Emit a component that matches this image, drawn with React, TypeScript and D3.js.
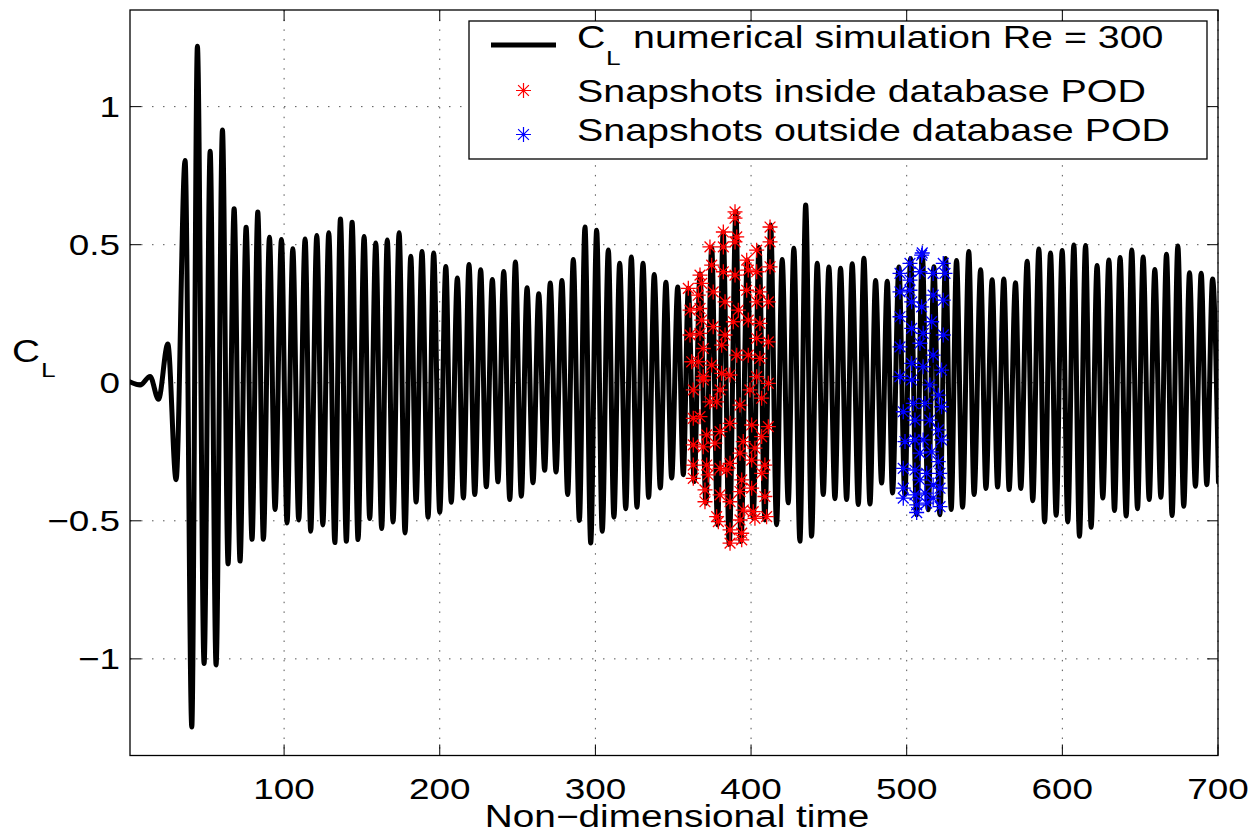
import React from 'react';
import * as d3 from 'd3';

// C_L time history: successive extrema (time, value)
const lineT = [1.1, 7.5, 13.9, 19.3, 25.3, 30.6, 36.4, 40.7, 44.3, 48.6, 52.5, 56.3, 60.4, 64.0, 67.9, 71.7, 75.6, 79.4, 83.1, 86.7,
  90.6, 94.2, 98.3, 101.9, 105.6, 109.4, 113.5, 117.1, 121.0, 124.9, 128.7, 132.6, 136.2, 140.0, 143.7, 147.5, 151.4, 155.0, 158.9, 162.7,
  166.3, 170.0, 173.9, 177.7, 181.4, 184.8, 188.6, 192.5, 196.1, 200.0, 203.9, 207.4, 211.3, 215.2, 218.8, 222.5, 226.3, 229.9, 233.8, 237.4,
  241.1, 245.0, 248.6, 252.4, 256.1, 259.9, 263.6, 267.4, 271.0, 274.7, 278.5, 282.2, 285.8, 289.7, 293.3, 297.0, 300.8, 304.4, 308.3, 311.9,
  315.6, 319.5, 323.1, 326.7, 330.6, 334.2, 337.8, 341.7, 345.3, 349.0, 352.9, 356.5, 359.7, 363.5, 367.2, 371.0, 374.7, 378.5, 382.1, 386.0,
  390.3, 393.5, 397.6, 401.4, 405.1, 408.9, 412.6, 416.4, 420.0, 423.9, 427.5, 431.4, 435.1, 438.9, 442.5, 446.4, 450.0, 453.9, 457.5, 461.4,
  465.0, 468.9, 472.5, 476.4, 480.0, 483.9, 487.5, 490.9, 495.0, 498.8, 502.5, 506.4, 510.0, 513.8, 517.5, 521.3, 525.0, 528.6, 532.0, 535.9,
  539.9, 543.3, 547.5, 550.9, 554.9, 558.4, 562.4, 565.8, 569.9, 573.3, 577.4, 581.0, 584.9, 588.6, 592.4, 596.0, 599.9, 603.5, 607.4, 611.0,
  614.9, 618.5, 622.3, 626.0, 629.9, 633.5, 637.1, 641.0, 644.6, 648.3, 651.9, 655.8, 659.4, 663.3, 666.9, 670.5, 674.2, 678.0, 681.7, 685.5,
  689.2, 692.8, 696.5, 700.3];
const lineV = [0.003, -0.008, 0.023, -0.060, 0.140, -0.351, 0.805, -1.247, 1.219, -1.017, 0.838, -1.022, 0.915, -0.656, 0.630, -0.646, 0.563, -0.567, 0.618, -0.567,
  0.527, -0.459, 0.519, -0.508, 0.485, -0.497, 0.521, -0.538, 0.533, -0.515, 0.543, -0.579, 0.593, -0.574, 0.581, -0.568, 0.530, -0.492, 0.506, -0.528,
  0.517, -0.504, 0.543, -0.544, 0.458, -0.432, 0.475, -0.487, 0.470, -0.469, 0.421, -0.433, 0.379, -0.417, 0.428, -0.405, 0.409, -0.377, 0.374, -0.359,
  0.403, -0.423, 0.437, -0.411, 0.344, -0.362, 0.322, -0.317, 0.361, -0.323, 0.370, -0.405, 0.446, -0.499, 0.564, -0.580, 0.552, -0.538, 0.481, -0.487,
  0.433, -0.456, 0.455, -0.451, 0.433, -0.415, 0.392, -0.381, 0.364, -0.345, 0.347, -0.333, 0.342, -0.358, 0.395, -0.436, 0.490, -0.515, 0.546, -0.585,
  0.619, -0.575, 0.445, -0.490, 0.490, -0.497, 0.571, -0.514, 0.446, -0.435, 0.487, -0.574, 0.644, -0.556, 0.433, -0.405, 0.419, -0.420, 0.415, -0.423,
  0.431, -0.441, 0.451, -0.439, 0.370, -0.363, 0.368, -0.399, 0.419, -0.405, 0.450, -0.478, 0.470, -0.460, 0.420, -0.478, 0.450, -0.459, 0.443, -0.451,
  0.475, -0.405, 0.409, -0.383, 0.373, -0.378, 0.376, -0.387, 0.362, -0.383, 0.440, -0.427, 0.484, -0.504, 0.470, -0.480, 0.479, -0.504, 0.499, -0.556,
  0.497, -0.523, 0.425, -0.417, 0.445, -0.463, 0.454, -0.483, 0.481, -0.456, 0.455, -0.423, 0.410, -0.415, 0.465, -0.481, 0.495, -0.447, 0.398, -0.375,
  0.397, -0.369, 0.376, -0.360];

// Snapshots inside database POD (red)
const redT = [389.7, 389.7, 412.2, 382.2, 390.8, 412.2, 373.6, 382.2, 389.7, 403.6, 397.2, 374.7, 412.2, 367.2, 382.2, 389.7, 403.6, 398.2,
  359.7, 368.3, 375.7, 397.2, 405.7, 366.1, 383.3, 403.6, 411.1, 360.8, 367.2, 391.8, 368.3, 388.6, 398.2, 405.7, 375.7, 360.8, 367.2, 383.3,
  403.6, 411.1, 369.3, 381.1, 390.8, 398.2, 405.7, 361.9, 366.1, 374.7, 381.1, 369.3, 386.5, 369.3, 403.6, 362.9, 380.1, 399.3, 411.1, 373.6,
  377.9, 392.9, 406.8, 362.9, 367.2, 386.5, 400.4, 411.1, 371.5, 380.1, 406.8, 362.9, 369.3, 376.8, 395.0, 402.5, 392.9, 362.9, 371.5, 380.1,
  386.5, 400.4, 408.9, 362.9, 372.5, 384.4, 394.0, 406.8, 370.4, 380.1, 392.9, 400.4, 408.9, 370.4, 386.5, 395.0, 401.4, 410.0, 377.9, 379.0,
  392.9, 402.5, 386.5, 394.0, 386.5, 394.0];
const redV = [0.619, 0.596, 0.564, 0.546, 0.528, 0.510, 0.492, 0.492, 0.510, 0.480, 0.444, 0.426, 0.420, 0.390, 0.402, 0.390, 0.402, 0.408,
  0.342, 0.360, 0.329, 0.335, 0.329, 0.317, 0.293, 0.293, 0.293, 0.263, 0.269, 0.263, 0.227, 0.221, 0.227, 0.215, 0.203, 0.173, 0.179, 0.173,
  0.161, 0.148, 0.124, 0.136, 0.100, 0.100, 0.088, 0.076, 0.076, 0.064, 0.034, 0.022, 0.028, 0.010, 0.022, -0.026, -0.026, -0.026, -0.002, -0.069,
  -0.069, -0.081, -0.056, -0.129, -0.123, -0.147, -0.153, -0.159, -0.189, -0.177, -0.195, -0.225, -0.232, -0.219, -0.213, -0.237, -0.255, -0.298, -0.298, -0.310,
  -0.292, -0.280, -0.298, -0.346, -0.334, -0.316, -0.352, -0.328, -0.388, -0.406, -0.394, -0.382, -0.412, -0.431, -0.431, -0.461, -0.467, -0.485, -0.485, -0.503,
  -0.497, -0.491, -0.533, -0.545, -0.581, -0.569];

// Snapshots outside database POD (blue)
const blueT = [509.6, 502.1, 523.5, 495.7, 508.5, 517.0, 524.6, 502.1, 495.7, 502.1, 517.0, 523.5, 503.2, 509.6, 495.7, 516.0, 503.2, 510.6,
  523.5, 495.7, 508.5, 517.0, 503.2, 510.6, 522.4, 495.7, 503.2, 514.9, 520.3, 504.2, 511.7, 522.4, 497.8, 514.9, 505.3, 520.3, 510.6, 498.9,
  505.3, 522.4, 516.0, 508.5, 520.3, 497.8, 505.3, 512.8, 521.4, 508.5, 517.0, 497.8, 521.4, 505.3, 511.7, 497.8, 517.0, 506.4, 521.4, 512.8,
  510.0, 506.4];
const blueV = [0.462, 0.432, 0.432, 0.396, 0.402, 0.396, 0.396, 0.372, 0.329, 0.335, 0.317, 0.299, 0.293, 0.275, 0.239, 0.221, 0.197, 0.179,
  0.173, 0.130, 0.143, 0.100, 0.070, 0.058, 0.046, 0.022, 0.010, -0.008, -0.045, -0.075, -0.075, -0.087, -0.105, -0.135, -0.135, -0.171, -0.207, -0.213,
  -0.207, -0.207, -0.250, -0.255, -0.286, -0.310, -0.316, -0.328, -0.328, -0.352, -0.370, -0.382, -0.382, -0.406, -0.400, -0.418, -0.418, -0.442, -0.449, -0.436,
  0.470, -0.470];

const xTicks = [100, 200, 300, 400, 500, 600, 700];
const yTicks = [-1, -0.5, 0, 0.5, 1];
const yTickLabels = ['\u22121', '\u22120.5', '0', '0.5', '1'];
const legendLabels = ['numerical simulation Re = 300', 'Snapshots inside database POD', 'Snapshots outside database POD'];

const W = 1253;
const H = 830;
const L = 130, R = 1218, T = 10, B = 755.5;
const FONT = 'Liberation Sans, Arial, Helvetica, sans-serif';
const SX = 1.25;

function starPath(cx: number, cy: number, r: number) {
  const d = r * 0.72;
  return `M${cx - r},${cy}H${cx + r}M${cx},${cy - r}V${cy + r}` +
    `M${cx - d},${cy - d}L${cx + d},${cy + d}M${cx - d},${cy + d}L${cx + d},${cy - d}`;
}

function Txt(props: { x: number; y: number; size: number; anchor?: string; children: React.ReactNode }) {
  return (
    <text
      transform={`translate(${props.x},${props.y}) scale(${SX},1)`}
      textAnchor={props.anchor || 'start'}
      fontSize={props.size}
      fontFamily={FONT}
      fill="#000"
    >
      {props.children}
    </text>
  );
}

export default function App() {
  const x = d3.scaleLinear().domain([1, 700]).range([L, R]);
  const y = d3.scaleLinear().domain([-1.35, 1.35]).range([B, T]);

  const pts = lineT.map((t, i) => ({ t, v: lineV[i] }));
  const path = d3.line<{ t: number; v: number }>()
    .x(d => x(d.t))
    .y(d => y(d.v))
    .curve(d3.curveMonotoneX)(pts) || '';

  const redPath = redT.map((t, i) => starPath(x(t), y(redV[i]), 7.5)).join('');
  const bluePath = blueT.map((t, i) => starPath(x(t), y(blueV[i]), 7.5)).join('');

  const tickLen = 11;

  return (
    <svg width={W} height={H} style={{ position: 'absolute', left: 0, top: 0, background: '#fff' }}>
      <defs>
        <clipPath id="plotclip">
          <rect x={L} y={T} width={R - L} height={B - T} />
        </clipPath>
      </defs>
      <rect x={0} y={0} width={W} height={H} fill="#fff" />
      {/* grid */}
      {xTicks.map(t => (
        <line key={'gx' + t} x1={x(t)} x2={x(t)} y1={T} y2={B} stroke="#555" strokeWidth={1} strokeDasharray="1.5 8.2" />
      ))}
      {yTicks.map(v => (
        <line key={'gy' + v} x1={L} x2={R} y1={y(v)} y2={y(v)} stroke="#555" strokeWidth={1} strokeDasharray="1.5 9.5" />
      ))}
      {/* ticks */}
      {xTicks.map(t => (
        <g key={'tx' + t}>
          <line x1={x(t)} x2={x(t)} y1={B} y2={B - tickLen} stroke="#000" strokeWidth={1} />
          <line x1={x(t)} x2={x(t)} y1={T} y2={T + tickLen} stroke="#000" strokeWidth={1} />
        </g>
      ))}
      {yTicks.map(v => (
        <g key={'ty' + v}>
          <line x1={L} x2={L + tickLen} y1={y(v)} y2={y(v)} stroke="#000" strokeWidth={1} />
          <line x1={R} x2={R - tickLen} y1={y(v)} y2={y(v)} stroke="#000" strokeWidth={1} />
        </g>
      ))}
      {/* data */}
      <g clipPath="url(#plotclip)">
        <path d={path} fill="none" stroke="#000" strokeWidth={5} strokeLinejoin="round" strokeLinecap="round" />
        <path d={redPath} fill="none" stroke="#ff0000" strokeWidth={1.3} />
        <path d={bluePath} fill="none" stroke="#0000ff" strokeWidth={1.3} />
      </g>
      {/* axes box */}
      <rect x={L} y={T} width={R - L} height={B - T} fill="none" stroke="#000" strokeWidth={1.3} />
      {/* tick labels */}
      {xTicks.map(t => (
        <Txt key={'lx' + t} x={x(t)} y={799} size={29.5} anchor="middle">{String(t)}</Txt>
      ))}
      {yTicks.map((v, i) => (
        <Txt key={'ly' + v} x={120} y={y(v) + 10.5} size={29.5} anchor="end">{yTickLabels[i]}</Txt>
      ))}
      {/* axis labels */}
      <Txt x={677} y={827} size={31} anchor="middle">Non{'\u2212'}dimensional time</Txt>
      <Txt x={12} y={362} size={31}>C</Txt>
      <Txt x={41} y={377} size={21}>L</Txt>
      {/* legend */}
      <rect x={469} y={21} width={738} height={138} fill="#fff" stroke="#000" strokeWidth={1.3} />
      <line x1={491} x2={556} y1={45} y2={45} stroke="#000" strokeWidth={5} />
      <Txt x={577} y={48} size={31.5}>C</Txt>
      <Txt x={606} y={65} size={21}>L</Txt>
      <Txt x={633} y={48} size={31.5}>{legendLabels[0]}</Txt>
      <path d={starPath(523.5, 90.5, 7.5)} stroke="#ff0000" strokeWidth={1.2} fill="none" />
      <Txt x={577} y={102} size={31.5}>{legendLabels[1]}</Txt>
      <path d={starPath(523.5, 134.5, 7.5)} stroke="#0000ff" strokeWidth={1.2} fill="none" />
      <Txt x={577} y={141} size={31.5}>{legendLabels[2]}</Txt>
    </svg>
  );
}
